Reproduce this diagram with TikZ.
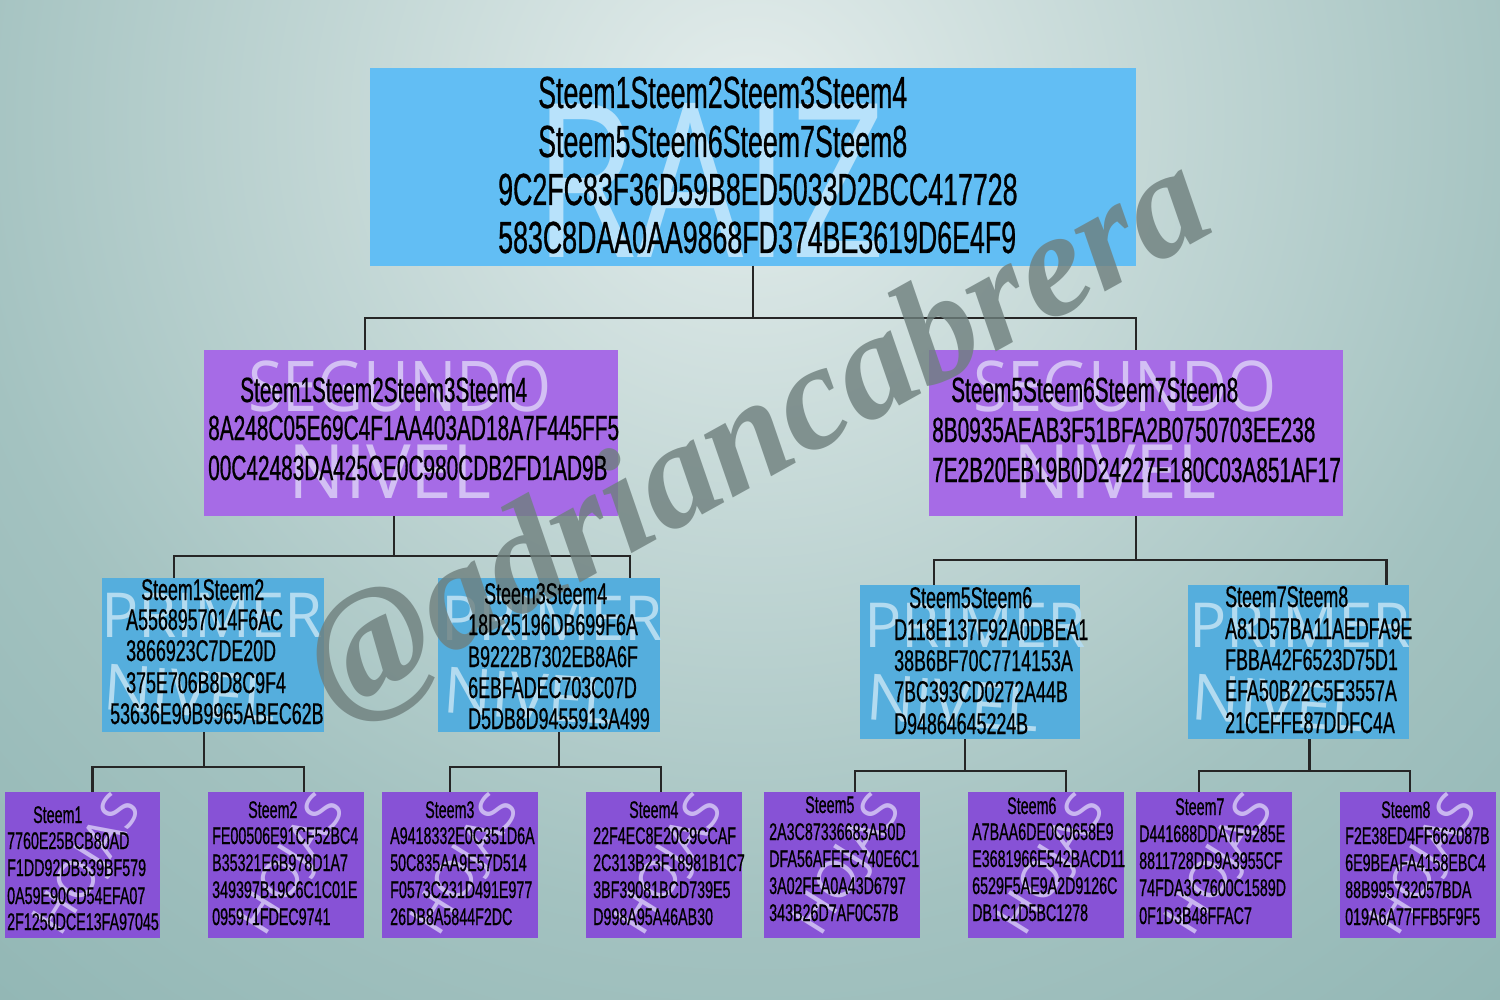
\documentclass[tikz,border=0pt]{standalone}
\usepackage{fontspec}
\setmainfont[FakeStretch=0.595,FakeBold=0.6]{Liberation Sans}
\newfontfamily\lblfont{Open Sans}
\newfontfamily\wmfont{Liberation Serif}
\definecolor{bgA}{HTML}{E4EDEC}
\definecolor{bgB}{HTML}{A3C2C0}
\definecolor{bgC}{HTML}{82ACAA}
\definecolor{bgD}{HTML}{669894}
\definecolor{rootblue}{HTML}{62BEF4}
\definecolor{segpurple}{HTML}{A66BE6}
\definecolor{primblue}{HTML}{55AEDD}
\definecolor{leafpurple}{HTML}{8752D6}
\definecolor{paleroot}{HTML}{B8E2FB}
\definecolor{palepurple}{HTML}{D3C0F4}
\definecolor{paleblue}{HTML}{B3DBF0}
\definecolor{paleleaf}{HTML}{C9B6F0}
\definecolor{wmgray}{HTML}{6E7F7D}
\pgfdeclareradialshading{bgshade}{\pgfpoint{0bp}{0bp}}{color(0bp)=(bgA); color(10bp)=(bgB); color(19bp)=(bgC); color(30bp)=(bgD); color(50bp)=(bgD)}
\begin{document}
\begin{tikzpicture}[x=1pt,y=-1pt,
  box/.style={anchor=north west,inner sep=0pt,outer sep=0pt,draw=none},
  rootbox/.style={box,fill=rootblue,minimum width=766pt,minimum height=198pt},
  segbox/.style={box,fill=segpurple,minimum width=414pt,minimum height=166pt},
  primbox/.style={box,fill=primblue,minimum width=222pt,minimum height=154pt},
  leafbox/.style={box,fill=leafpurple,minimum width=156pt,minimum height=146pt},
  conn/.style={draw=black!85,line width=2.5pt},
  txt/.style={anchor=base west,inner sep=0pt,text=black},
  lbl/.style={inner sep=0pt,font=\lblfont},
]
\newcommand\tx[4]{\node[txt] (#1) at (#2,#3) {#4};}
\useasboundingbox (0,0) rectangle (1500,1000);
% background
\begin{scope}
\clip (0,0) rectangle (1500,1000);
\shade[shading=bgshade] (750,120) circle (2000pt);
\end{scope}

% boxes
\node[rootbox] (root) at (370,68) {};
\node[segbox] (s1) at (204,350) {};
\node[segbox] (s2) at (929,350) {};
\node[primbox] (f1) at (102,578) {};
\node[primbox] (f2) at (438,578) {};
\node[primbox,minimum width=220pt] (f3) at (860,585) {};
\node[primbox,minimum width=221pt] (f4) at (1188,585) {};
\node[leafbox,minimum width=155pt] (l1) at (5,792) {};
\node[leafbox] (l2) at (208,792) {};
\node[leafbox] (l3) at (382,792) {};
\node[leafbox] (l4) at (586,792) {};
\node[leafbox] (l5) at (764,792) {};
\node[leafbox] (l6) at (968,792) {};
\node[leafbox] (l7) at (1136,792) {};
\node[leafbox] (l8) at (1340,792) {};

% faint level labels
\node[lbl,text=paleroot] (wRaiz) at (710,180) {\scalebox{0.78}[1]{\fontsize{215}{215}\selectfont RAIZ}};
\foreach \cx/\n in {400/a,1125/b}{
  \node[lbl,text=palepurple] (wSeg\n) at (\cx,386) {\scalebox{0.9}[1]{\fontsize{70}{70}\selectfont SEGUNDO}};
  \node[lbl,text=palepurple] (wNiv\n) at (\cx-10,472) {\fontsize{75}{75}\selectfont NIVEL};
}
\foreach \cx/\cy/\n in {212/615/a,552/618/b,975/625/c,1300/625/d}{
  \node[lbl,text=paleblue] (wPri\n) at (\cx,\cy) {\fontsize{62}{62}\selectfont PRIMER};
  \node[lbl,text=paleblue,rotate=-4] (wPn\n) at (\cx-22,\cy+78) {\fontsize{64}{64}\selectfont NIVEL};
}
\foreach \cx/\n in {82/a,286/b,460/c,664/d,842/e,1046/f,1214/g,1418/h}{
  \node[lbl,text=paleleaf,rotate=58] (wHo\n) at (\cx+8,866) {\fontsize{52}{52}\selectfont HOJAS};
}

% connectors
\draw[conn] (root.south) -- ++(0,52) -| ([xshift=-46pt]s1.north);
\draw[conn] (root.south) -- ++(0,52) -| (s2.north);
\draw[conn] ([xshift=-17pt]s1.south) -- ++(0,40) -| ([xshift=-39pt]f1.north);
\draw[conn] ([xshift=-17pt]s1.south) -- ++(0,40) -| ([xshift=81pt]f2.north);
\draw[conn] (s2.south) -- ++(0,44) -| ([xshift=-36pt]f3.north);
\draw[conn] (s2.south) -- ++(0,44) -| ([xshift=88pt]f4.north);
\draw[conn] ([xshift=-9pt]f1.south) -- ++(0,35) -| ([xshift=10pt]l1.north);
\draw[conn] ([xshift=-9pt]f1.south) -- ++(0,35) -| ([xshift=18pt]l2.north);
\draw[conn] ([xshift=10pt]f2.south) -- ++(0,35) -| ([xshift=-10pt]l3.north);
\draw[conn] ([xshift=10pt]f2.south) -- ++(0,35) -| ([xshift=-3pt]l4.north);
\draw[conn] ([xshift=-5pt]f3.south) -- ++(0,32) -| ([xshift=13pt]l5.north);
\draw[conn] ([xshift=-5pt]f3.south) -- ++(0,32) -| ([xshift=20pt]l6.north);
\draw[conn] ([xshift=11pt]f4.south) -- ++(0,32) -| ([xshift=-15pt]l7.north);
\draw[conn] ([xshift=11pt]f4.south) -- ++(0,32) -| ([xshift=-8pt]l8.north);

% watermark
\node[text=wmgray,opacity=0.8,rotate=29,inner sep=0pt] (wm) at (760,440)
  {\wmfont\bfseries\itshape\fontsize{150}{150}\selectfont @adriancabrera};

% texts
\begin{scope}[every node/.append style={font=\fontsize{45}{45}\selectfont}]
\tx{rt1}{538}{108}{Steem1Steem2Steem3Steem4}
\tx{rt2}{538}{157}{Steem5Steem6Steem7Steem8}
\tx{rt3}{498}{205}{9C2FC83F36D59B8ED5033D2BCC417728}
\tx{rt4}{498}{253}{583C8DAA0AA9868FD374BE3619D6E4F9}
\end{scope}
\begin{scope}[every node/.append style={font=\fontsize{35}{35}\selectfont}]
\tx{sa1}{240}{402}{Steem1Steem2Steem3Steem4}
\tx{sa2}{208}{440}{8A248C05E69C4F1AA403AD18A7F445FF5}
\tx{sa3}{208}{480}{00C42483DA425CE0C980CDB2FD1AD9B}
\tx{sb1}{951}{402}{Steem5Steem6Steem7Steem8}
\tx{sb2}{932}{442}{8B0935AEAB3F51BFA2B0750703EE238}
\tx{sb3}{932}{482}{7E2B20EB19B0D24227E180C03A851AF17}
\end{scope}
\begin{scope}[every node/.append style={font=\fontsize{30}{30}\selectfont}]
\tx{fa1}{141}{600}{Steem1Steem2}
\tx{fa2}{126}{630}{A5568957014F6AC}
\tx{fa3}{126}{661}{3866923C7DE20D}
\tx{fa4}{126}{693}{375E706B8D8C9F4}
\tx{fa5}{110}{724}{53636E90B9965ABEC62B}
\tx{fb1}{484}{604}{Steem3Steem4}
\tx{fb2}{468}{635}{18D25196DB699F6A}
\tx{fb3}{468}{667}{B9222B7302EB8A6F}
\tx{fb4}{468}{698}{6EBFADEC703C07D}
\tx{fb5}{468}{729}{D5DB8D9455913A499}
\tx{fc1}{909}{608}{Steem5Steem6}
\tx{fc2}{894}{640}{D118E137F92A0DBEA1}
\tx{fc3}{894}{671}{38B6BF70C7714153A}
\tx{fc4}{894}{702}{7BC393CD0272A44B}
\tx{fc5}{894}{734}{D94864645224B}
\tx{fd1}{1225}{607}{Steem7Steem8}
\tx{fd2}{1225}{639}{A81D57BA11AEDFA9E}
\tx{fd3}{1225}{670}{FBBA42F6523D75D1}
\tx{fd4}{1225}{701}{EFA50B22C5E3557A}
\tx{fd5}{1225}{733}{21CEFFE87DDFC4A}
\end{scope}
\begin{scope}[every node/.append style={font=\fontsize{24}{24}\selectfont}]
\tx{la1}{33}{823}{Steem1}
\tx{la2}{7}{849}{7760E25BCB80AD}
\tx{la3}{7}{876}{F1DD92DB339BF579}
\tx{la4}{7}{904}{0A59E90CD54EFA07}
\tx{la5}{7}{930}{2F1250DCE13FA97045}
\tx{lb1}{248}{818}{Steem2}
\tx{lb2}{212}{844}{FE00506E91CF52BC4}
\tx{lb3}{212}{871}{B35321E6B978D1A7}
\tx{lb4}{212}{898}{349397B19C6C1C01E}
\tx{lb5}{212}{925}{095971FDEC9741}
\tx{lc1}{425}{818}{Steem3}
\tx{lc2}{390}{844}{A9418332E0C351D6A}
\tx{lc3}{390}{871}{50C835AA9E57D514}
\tx{lc4}{390}{898}{F0573C231D491E977}
\tx{lc5}{390}{925}{26DB8A5844F2DC}
\tx{ld1}{629}{818}{Steem4}
\tx{ld2}{593}{844}{22F4EC8E20C9CCAF}
\tx{ld3}{593}{871}{2C313B23F18981B1C7}
\tx{ld4}{593}{898}{3BF39081BCD739E5}
\tx{ld5}{593}{925}{D998A95A46AB30}
\tx{le1}{805}{813}{Steem5}
\tx{le2}{769}{840}{2A3C87336683AB0D}
\tx{le3}{769}{867}{DFA56AFEFC740E6C1}
\tx{le4}{769}{894}{3A02FEA0A43D6797}
\tx{le5}{769}{921}{343B26D7AF0C57B}
\tx{lf1}{1007}{814}{Steem6}
\tx{lf2}{972}{840}{A7BAA6DE0C0658E9}
\tx{lf3}{972}{867}{E3681966E542BACD11}
\tx{lf4}{972}{894}{6529F5AE9A2D9126C}
\tx{lf5}{972}{921}{DB1C1D5BC1278}
\tx{lg1}{1175}{815}{Steem7}
\tx{lg2}{1139}{842}{D441688DDA7F9285E}
\tx{lg3}{1139}{869}{8811728DD9A3955CF}
\tx{lg4}{1139}{896}{74FDA3C7600C1589D}
\tx{lg5}{1139}{924}{0F1D3B48FFAC7}
\tx{lh1}{1381}{818}{Steem8}
\tx{lh2}{1345}{844}{F2E38ED4FF662087B}
\tx{lh3}{1345}{871}{6E9BEAFA4158EBC4}
\tx{lh4}{1345}{898}{88B995732057BDA}
\tx{lh5}{1345}{925}{019A6A77FFB5F9F5}
\end{scope}
\end{tikzpicture}
\end{document}
